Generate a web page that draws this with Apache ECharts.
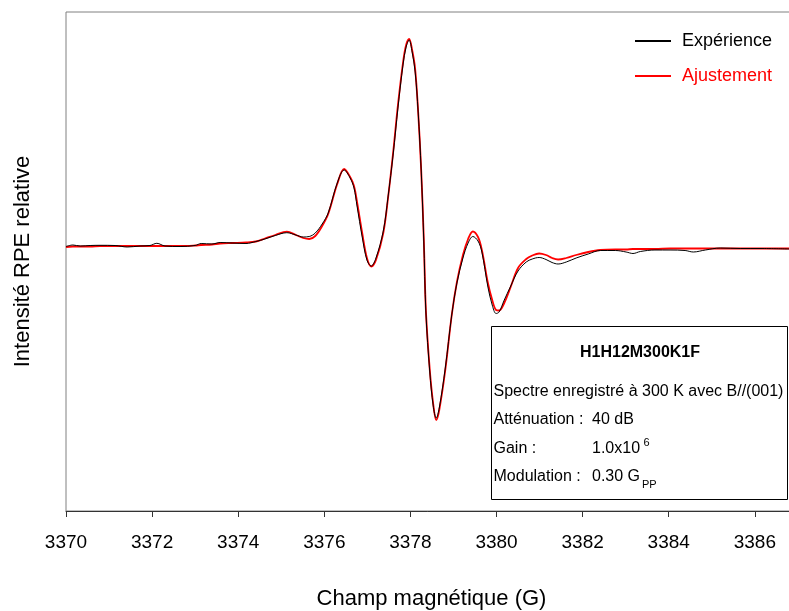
<!DOCTYPE html>
<html>
<head>
<meta charset="utf-8">
<script src="https://cdn.jsdelivr.net/npm/echarts@6/dist/echarts.min.js"></script>
<style>html,body{margin:0;padding:0;background:#fff}#c{width:789px;height:611px}</style>
</head>
<body>
<div id="c"></div>
<script>
const field = [3370.00,3370.16,3370.33,3370.56,3370.79,3371.14,3371.42,3371.72,3371.95,3372.11,
3372.30,3372.65,3373.00,3373.14,3373.39,3373.58,3373.86,3374.18,3374.41,3374.62,
3374.86,3375.13,3375.34,3375.51,3375.65,3375.79,3375.95,3376.09,3376.30,3376.46,
3376.60,3376.69,3376.76,3376.88,3376.99,3377.09,3377.20,3377.37,3377.48,3377.60,
3377.71,3377.83,3377.90,3377.97,3378.04,3378.11,3378.18,3378.25,3378.31,3378.36,
3378.45,3378.53,3378.60,3378.67,3378.81,3378.96,3379.08,3379.22,3379.34,3379.45,
3379.57,3379.66,3379.80,3379.90,3379.99,3380.06,3380.18,3380.32,3380.50,3380.69,
3380.83,3380.99,3381.15,3381.29,3381.43,3381.62,3381.85,3382.13,3382.41,3382.76,
3383.01,3383.17,3383.34,3383.68,3384.03,3384.38,3384.57,3384.85,3385.20,3385.66,
3386.12,3386.80];
const experience = [0.5,2,1,1.5,1.7,1.5,0,1,1.5,3.7,
1,0.5,1.5,3.5,3,4.5,4,3.5,5.5,8,
11.5,14.3,12,10,10.5,14,23,34,64,77,
69,59,41,10,-13,-19,-11,16,50,93,
139,183,200,207,195,175,135,77,7,-66,
-125,-159,-171,-161,-121,-68,-36,-11,4,10.5,
6,-5,-40,-58,-66.5,-65,-53,-40,-24,-15,
-12,-10.5,-12.5,-15.5,-17,-15,-11,-7,-3.5,-3.5,
-5,-6.5,-4.5,-3,-3,-3.5,-5,-3,-1,-1.5,
-1.5,-2];
const ajustement = [0,0.5,0.5,0.5,1,1,1,1,1,1,
1,1,1.5,2,2.5,3.5,4,4.5,5.5,8.5,
12,15.3,12,9,8,11,21,33,63,78,
70,61,45,14,-11,-19.5,-13,14,49,95,
142,185,202,208,197,178,135,77,9,-64,
-123,-157,-173,-163,-123,-68,-35,-8,8,15.5,
10,-3,-36,-53,-63,-63.5,-56,-41,-21,-12,
-8.5,-6.5,-8,-11,-12.5,-11,-8,-5,-3,-2.5,
-2.5,-2,-2,-2,-1.5,-1.5,-1.5,-1.5,-1.5,-1.5,
-1.5,-1.5];
const xTicks = [3370,3372,3374,3376,3378,3380,3382,3384,3386];
const seriesNames = ['Expérience','Ajustement'];
const infoTitle = 'H1H12M300K1F';
const infoLines = [
  ['Spectre enregistré à 300 K avec B//(001)', ''],
  ['Atténuation :', '40 dB'],
  ['Gain :', '1.0x10'],
  ['Modulation :', '0.30 G']
];
const infoSup = '6';
const infoSub = 'PP';

const FONT = "'Liberation Sans', Arial, sans-serif";
const chart = echarts.init(document.getElementById('c'));
const pair = arr => field.map((f, i) => [f, arr[i]]);

const lineY = [391.5, 420, 449, 477];
const graphics = [
  {type:'rect', z:100, shape:{x:491.5, y:326.5, width:296, height:173},
   style:{fill:'#fff', stroke:'#000', lineWidth:1}},
  {type:'text', z:101, x:640, y:353,
   style:{text:infoTitle, font:"bold 16px " + FONT, fill:'#000', textAlign:'center', textVerticalAlign:'middle', align:'center', verticalAlign:'middle'}}
];
infoLines.forEach((l, i) => {
  graphics.push({type:'text', z:101, x:493.5, y:lineY[i],
    style:{text:l[0], font:"16px " + FONT, fill:'#000', textAlign:'left', textVerticalAlign:'middle', align:'left', verticalAlign:'middle'}});
  if (l[1]) graphics.push({type:'text', z:101, x:592, y:lineY[i],
    style:{text:l[1], font:"16px " + FONT, fill:'#000', textAlign:'left', textVerticalAlign:'middle', align:'left', verticalAlign:'middle'}});
});
graphics.push({type:'text', z:101, x:643.5, y:443,
  style:{text:infoSup, font:"11px " + FONT, fill:'#000', textAlign:'left', textVerticalAlign:'middle', align:'left', verticalAlign:'middle'}});
graphics.push({type:'text', z:101, x:642, y:485,
  style:{text:infoSub, font:"11px " + FONT, fill:'#000', textAlign:'left', textVerticalAlign:'middle', align:'left', verticalAlign:'middle'}});

chart.setOption({
  animation:false,
  backgroundColor:'#fff',
  textStyle:{fontFamily:FONT},
  grid:{left:66, top:12, right:-2, bottom:100, show:true, borderColor:'#808080', borderWidth:1,
        backgroundColor:'transparent', containLabel:false, outerBoundsMode:'none'},
  legend:{
    orient:'vertical', left:634, top:30, itemWidth:36, itemHeight:14, itemGap:13,
    padding:0,
    itemStyle:{opacity:0},
    data:[
      {name:seriesNames[0], textStyle:{color:'#000'}},
      {name:seriesNames[1], textStyle:{color:'#ff0000'}}
    ],
    textStyle:{fontSize:18, fontFamily:FONT, lineHeight:22, padding:[0,0,0,6]}
  },
  xAxis:{
    type:'value', min:xTicks[0], max:3386.84, interval:2,
    axisLine:{onZero:false, lineStyle:{color:'#333', width:1}},
    axisTick:{length:6, lineStyle:{color:'#333'}},
    axisLabel:{fontSize:19, color:'#000', margin:22, fontFamily:FONT,
      formatter: v => xTicks.indexOf(Math.round(v*100)/100) >= 0 ? String(v) : ''},
    splitLine:{show:false},
    name:'Champ magnétique (G)', nameLocation:'middle', nameGap:77,
    nameTextStyle:{fontSize:22, color:'#000', fontFamily:FONT, padding:[0,0,0,6]}
  },
  yAxis:{
    type:'value', min:-264, max:235,
    axisLine:{show:false}, axisTick:{show:false}, axisLabel:{show:false}, splitLine:{show:false},
    name:'Intensité RPE relative', nameLocation:'middle', nameGap:32,
    nameTextStyle:{fontSize:22, color:'#000', fontFamily:FONT}
  },
  series:[
    {name:seriesNames[0], type:'line', data:pair(experience), symbol:'none', smooth:0.35, z:3,
     lineStyle:{color:'#000', width:1}, itemStyle:{color:'#000'}},
    {name:seriesNames[1], type:'line', data:pair(ajustement), symbol:'none', smooth:0.35, z:2,
     lineStyle:{color:'#ff0000', width:1.8}, itemStyle:{color:'#ff0000'}}
  ],
  graphic:graphics
});
</script>
</body>
</html>
